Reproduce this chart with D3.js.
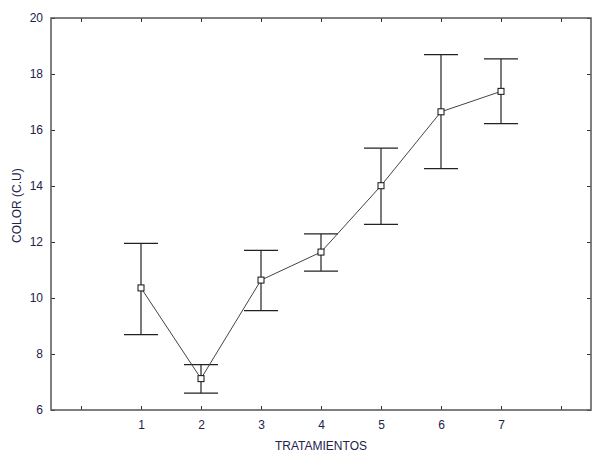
<!DOCTYPE html>
<html>
<head>
<meta charset="utf-8">
<script src="https://cdn.jsdelivr.net/npm/d3@7"></script>
<style>
    body { margin: 0; background: #fff; }
    svg text { font-family: Arial, "Liberation Sans", sans-serif; }
</style>
</head>
<body>
<svg id="chart" width="593" height="454"></svg>
<script>
// Tratamientos 1..7, media y barras de error
var treatments = [1, 2, 3, 4, 5, 6, 7];
var means = [10.36, 7.12, 10.64, 11.64, 14.01, 16.65, 17.38];
var upper = [11.95, 7.62, 11.70, 12.29, 15.35, 18.69, 18.54];
var lower = [8.69, 6.60, 9.55, 10.96, 12.63, 14.62, 16.23];
var xTicks = [0, 1, 2, 3, 4, 5, 6, 7, 8];
var xTickLabels = ['', '1', '2', '3', '4', '5', '6', '7', ''];
var yTicks = [6, 8, 10, 12, 14, 16, 18, 20];

var margin = {top: 18, right: 2, bottom: 44, left: 51};
var width = 593 - margin.left - margin.right;
var height = 454 - margin.top - margin.bottom;
var textColor = '#22224a';

var svg = d3.select('#chart');
var g = svg.append('g')
    .attr('transform', 'translate(' + margin.left + ',' + margin.top + ')');

var x = d3.scaleLinear().domain([-0.5, 8.5]).range([0, width]);
var y = d3.scaleLinear().domain([6, 20]).range([height, 0]);

var data = treatments.map(function (t, i) {
    return {t: t, mean: means[i], hi: upper[i], lo: lower[i]};
});

// Ejes con marcas hacia dentro, en los cuatro lados
var bottomAxis = d3.axisBottom(x).tickValues(xTicks).tickSize(-4).tickPadding(10)
    .tickFormat(function (d, i) { return xTickLabels[i]; });
var topAxis = d3.axisTop(x).tickValues(xTicks).tickSize(-4).tickFormat('');
var leftAxis = d3.axisLeft(y).tickValues(yTicks).tickSize(-4).tickPadding(8).tickFormat(d3.format('d'));
var rightAxis = d3.axisRight(y).tickValues(yTicks).tickSize(-4).tickFormat('');

function styleAxis(sel) {
    sel.select('.domain').remove();
    sel.selectAll('line').attr('stroke', '#333').attr('stroke-width', 1);
    sel.selectAll('text').attr('fill', textColor).style('font-size', '12px');
}

g.append('g').attr('transform', 'translate(0,' + height + ')').call(bottomAxis).call(styleAxis);
g.append('g').call(topAxis).call(styleAxis);
g.append('g').call(leftAxis).call(styleAxis);
g.append('g').attr('transform', 'translate(' + width + ',0)').call(rightAxis).call(styleAxis);

// marco
g.append('rect')
    .attr('x', 0).attr('y', 0)
    .attr('width', width).attr('height', height)
    .attr('fill', 'none')
    .attr('stroke', '#555')
    .attr('stroke-width', 1.5);

// barras de error
var capHalf = 17;
var bars = g.append('g').attr('class', 'errorbars');
bars.selectAll('line.v')
    .data(data)
    .enter()
    .append('line')
    .attr('class', 'v')
    .attr('x1', function (d) { return x(d.t); })
    .attr('x2', function (d) { return x(d.t); })
    .attr('y1', function (d) { return y(d.hi); })
    .attr('y2', function (d) { return y(d.lo); })
    .attr('stroke', '#222').attr('stroke-width', 1.2);
bars.selectAll('line.hi')
    .data(data)
    .enter()
    .append('line')
    .attr('class', 'hi')
    .attr('x1', function (d) { return x(d.t) - capHalf; })
    .attr('x2', function (d) { return x(d.t) + capHalf; })
    .attr('y1', function (d) { return y(d.hi); })
    .attr('y2', function (d) { return y(d.hi); })
    .attr('stroke', '#222').attr('stroke-width', 1.2);
bars.selectAll('line.lo')
    .data(data)
    .enter()
    .append('line')
    .attr('class', 'lo')
    .attr('x1', function (d) { return x(d.t) - capHalf; })
    .attr('x2', function (d) { return x(d.t) + capHalf; })
    .attr('y1', function (d) { return y(d.lo); })
    .attr('y2', function (d) { return y(d.lo); })
    .attr('stroke', '#222').attr('stroke-width', 1.2);

// linea de medias
var line = d3.line()
    .x(function (d) { return x(d.t); })
    .y(function (d) { return y(d.mean); });
g.append('path')
    .datum(data)
    .attr('d', line)
    .attr('fill', 'none')
    .attr('stroke', '#444')
    .attr('stroke-width', 1);

// marcadores
g.selectAll('rect.pt')
    .data(data)
    .enter()
    .append('rect')
    .attr('class', 'pt')
    .attr('x', function (d) { return x(d.t) - 3; })
    .attr('y', function (d) { return y(d.mean) - 3; })
    .attr('width', 6)
    .attr('height', 6)
    .attr('fill', '#fff')
    .attr('stroke', '#111')
    .attr('stroke-width', 1);

// titulos de ejes
svg.append('text')
    .attr('x', margin.left + x(4))
    .attr('y', 450)
    .attr('text-anchor', 'middle')
    .attr('fill', textColor)
    .style('font-size', '12px')
    .text('TRATAMIENTOS');

svg.append('text')
    .attr('transform', 'translate(21,' + (margin.top + y(13.3)) + ') rotate(-90)')
    .attr('text-anchor', 'middle')
    .attr('fill', textColor)
    .style('font-size', '12px')
    .text('COLOR (C.U)');
</script>
</body>
</html>
